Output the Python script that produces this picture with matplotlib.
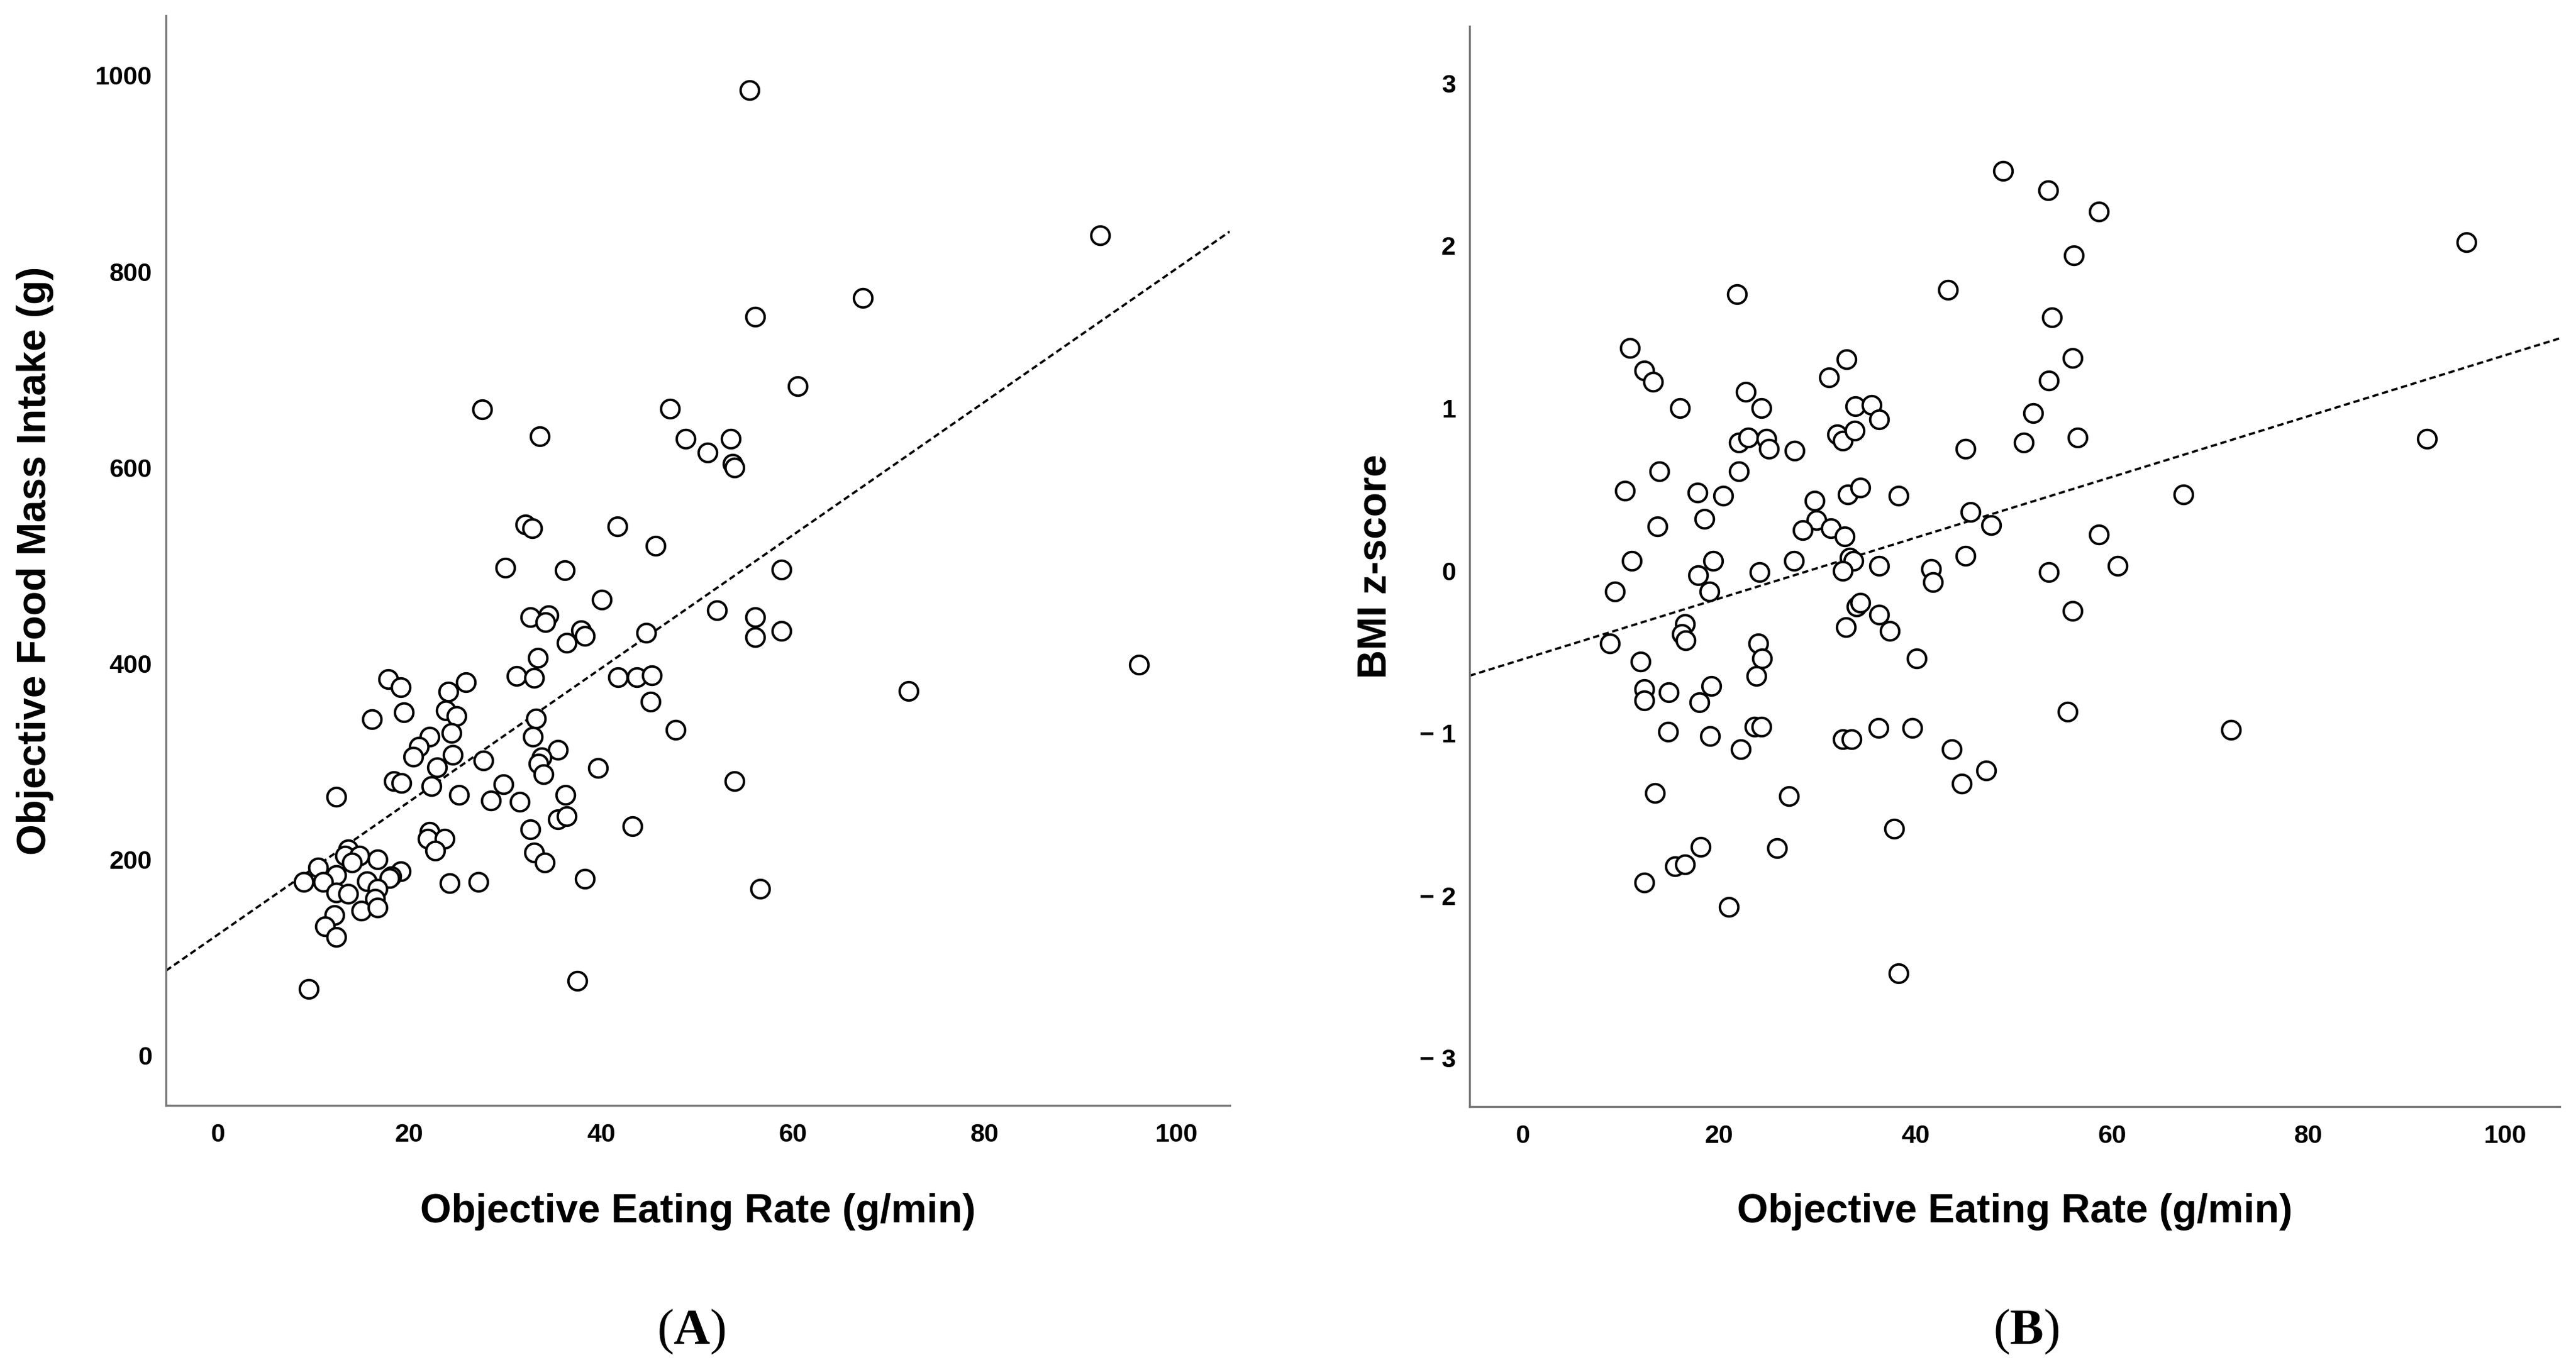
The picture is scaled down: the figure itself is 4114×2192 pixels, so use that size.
import numpy as np
import matplotlib
matplotlib.use("Agg")
import matplotlib.pyplot as plt

plt.rcParams['font.family'] = ['Liberation Sans', 'DejaVu Sans']
plt.rcParams['mathtext.fontset'] = 'custom'
plt.rcParams['mathtext.rm'] = 'Liberation Serif'
plt.rcParams['mathtext.bf'] = 'Liberation Serif:bold'

# panel A: eating rate (g/min) vs food mass intake (g)
rate_a = [55.5, 92.1, 67.3, 56.1, 60.5, 27.6, 47.2, 33.6, 48.8, 53.5,
          51.1, 53.7, 53.9, 32.1, 32.8, 41.7, 45.7, 30.0, 36.2, 58.8,
          40.1, 52.1, 32.6, 34.5, 34.2, 56.1, 37.9, 38.3, 44.7, 58.8,
          56.1, 36.4, 33.4, 96.1, 17.8, 25.9, 31.2, 33.0, 41.8, 43.7,
          45.3, 19.1, 24.1, 72.1, 45.2, 23.8, 19.4, 24.9, 16.1, 33.2,
          47.8, 24.4, 22.1, 32.9, 21.0, 35.5, 20.4, 24.5, 33.8, 27.7,
          33.5, 22.9, 39.7, 34.0, 18.4, 19.2, 53.9, 22.3, 29.8, 12.4,
          25.2, 36.3, 28.5, 31.5, 35.5, 36.4, 43.3, 32.6, 22.1, 21.9,
          23.7, 22.7, 33.0, 13.6, 16.7, 13.3, 14.8, 14.0, 34.1, 10.5,
          12.4, 19.1, 18.1, 17.9, 9.0, 11.0, 15.6, 24.2, 27.2, 38.3,
          56.6, 12.4, 13.6, 16.7, 16.4, 15.0, 16.7, 12.2, 11.2, 12.4,
          9.5, 37.5]
intake_a = [985, 837, 773, 754, 683, 659, 660, 632, 629, 629,
            615, 604, 600, 542, 538, 540, 520, 498, 495, 496,
            465, 454, 447, 449, 442, 447, 434, 428, 431, 433,
            427, 421, 406, 399, 384, 381, 387, 385, 386, 386,
            388, 376, 371, 372, 361, 352, 350, 346, 343, 344,
            332, 329, 325, 325, 315, 312, 305, 307, 304, 301,
            298, 294, 293, 287, 280, 278, 280, 275, 277, 264,
            266, 266, 260, 259, 241, 244, 234, 231, 228, 221,
            221, 209, 207, 210, 200, 204, 204, 197, 197, 192,
            184, 188, 183, 181, 177, 177, 178, 176, 177, 180,
            170, 166, 165, 170, 160, 148, 151, 143, 132, 121,
            68, 76]

# panel B: eating rate (g/min) vs BMI z-score
rate_b = [48.9, 53.5, 58.7, 96.1, 56.1, 21.8, 43.3, 53.9, 10.9, 12.4,
          13.3, 33.0, 56.0, 31.2, 53.6, 22.7, 16.0, 24.3, 33.9, 35.5,
          36.3, 52.0, 22.0, 23.0, 24.8, 25.1, 27.7, 32.0, 32.6, 33.8,
          51.0, 45.1, 56.5, 92.1, 13.9, 22.0, 10.4, 17.8, 20.4, 33.1,
          34.4, 38.3, 67.3, 29.7, 18.5, 29.9, 45.6, 13.7, 28.5, 31.4,
          47.7, 32.8, 58.7, 11.1, 19.4, 27.6, 33.3, 33.7, 45.1, 36.3,
          41.6, 60.6, 17.9, 24.1, 32.6, 53.6, 41.8, 9.4, 19.0, 34.0,
          34.4, 56.0, 36.3, 16.5, 16.2, 16.6, 32.9, 37.4, 8.9, 24.0,
          24.4, 40.1, 12.0, 23.8, 12.4, 12.4, 14.9, 19.2, 18.0, 55.5,
          72.1, 14.8, 19.1, 23.6, 24.3, 36.2, 39.7, 32.6, 33.5, 22.2,
          43.7, 47.2, 44.7, 13.5, 27.1, 37.8, 18.1, 25.9, 15.5, 16.5,
          12.4, 21.0, 38.3]
bmi_z = [2.46, 2.34, 2.21, 2.02, 1.94, 1.70, 1.73, 1.56, 1.37, 1.23,
         1.16, 1.30, 1.31, 1.19, 1.17, 1.10, 1.00, 1.00, 1.01, 1.02,
         0.93, 0.97, 0.79, 0.82, 0.81, 0.75, 0.74, 0.84, 0.80, 0.86,
         0.79, 0.75, 0.82, 0.81, 0.61, 0.61, 0.49, 0.48, 0.46, 0.47,
         0.51, 0.46, 0.47, 0.43, 0.32, 0.31, 0.36, 0.27, 0.25, 0.26,
         0.28, 0.21, 0.22, 0.06, 0.06, 0.06, 0.08, 0.06, 0.09, 0.03,
         0.01, 0.03, -0.03, -0.01, 0.00, -0.01, -0.07, -0.13, -0.13, -0.22,
         -0.20, -0.25, -0.27, -0.33, -0.39, -0.43, -0.35, -0.37, -0.45, -0.45,
         -0.54, -0.54, -0.56, -0.65, -0.73, -0.80, -0.75, -0.71, -0.81, -0.87,
         -0.98, -0.99, -1.02, -0.96, -0.96, -0.97, -0.97, -1.04, -1.04, -1.10,
         -1.10, -1.23, -1.31, -1.37, -1.39, -1.59, -1.70, -1.71, -1.82, -1.81,
         -1.92, -2.07, -2.48]

x_ticks = [0, 20, 40, 60, 80, 100]
a_yticks = [0, 200, 400, 600, 800, 1000]
b_yticks = [-3, -2, -1, 0, 1, 2, 3]
b_ylabels = ['\u2212 3', '\u2212 2', '\u2212 1', '0', '1', '2', '3']


def style_axes(ax):
    for side in ['top', 'right']:
        ax.spines[side].set_visible(False)
    for side in ['left', 'bottom']:
        ax.spines[side].set_color('#777777')
        ax.spines[side].set_linewidth(2.4)
    ax.tick_params(axis='both', length=0, labelsize=29.5)
    ax.tick_params(axis='x', pad=20)
    ax.tick_params(axis='y', pad=16)
    for lab in ax.get_xticklabels() + ax.get_yticklabels():
        lab.set_fontweight('bold')


def scatter_fit(ax, x, y, xlim):
    ax.scatter(x, y, s=450, facecolors='white', edgecolors='black',
               linewidths=2.8, zorder=3)
    # least-squares fit line, like the reference
    slope, icpt = np.polyfit(x, y, 1)
    xs = np.array(xlim)
    ax.plot(xs, icpt + slope * xs, color='black', lw=2.6,
            dashes=(2.8, 1.6), zorder=2)


fig = plt.figure(figsize=(41.14, 21.92), dpi=100)

xlim = (-5.4, 105.6)

ax_a = fig.add_axes([0.0644, 0.1943, 0.413, 0.7943])
scatter_fit(ax_a, rate_a, intake_a, xlim)
ax_a.set_xlim(*xlim)
ax_a.set_ylim(-51, 1061)
ax_a.set_xticks(x_ticks)
ax_a.set_yticks(a_yticks)
style_axes(ax_a)
ax_a.set_xlabel('Objective Eating Rate (g/min)', fontsize=46, fontweight='bold')
ax_a.set_ylabel('Objective Food Mass Intake (g)', fontsize=46, fontweight='bold')
ax_a.xaxis.set_label_coords(0.5, -0.0976)
ax_a.xaxis.label.set_va('center')
ax_a.yaxis.set_label_coords(-0.123, 0.5)
ax_a.yaxis.label.set_va('center')

ax_b = fig.add_axes([0.5705, 0.1934, 0.4232, 0.7874])
scatter_fit(ax_b, rate_b, bmi_z, xlim)
ax_b.set_xlim(*xlim)
ax_b.set_ylim(-3.30, 3.35)
ax_b.set_xticks(x_ticks)
ax_b.set_yticks(b_yticks)
ax_b.set_yticklabels(b_ylabels)
style_axes(ax_b)
ax_b.set_xlabel('Objective Eating Rate (g/min)', fontsize=46, fontweight='bold')
ax_b.set_ylabel('BMI z-score', fontsize=46, fontweight='bold')
ax_b.xaxis.set_label_coords(0.5, -0.0973)
ax_b.xaxis.label.set_va('center')
ax_b.yaxis.set_label_coords(-0.0862, 0.5)
ax_b.yaxis.label.set_va('center')

fig.text(0.2684, 0.0292, r'$\mathrm{(}\mathbf{A}\mathrm{)}$', fontsize=58,
         ha='center', va='center')
fig.text(0.7866, 0.0292, r'$\mathrm{(}\mathbf{B}\mathrm{)}$', fontsize=58,
         ha='center', va='center')

fig.savefig('out.png', dpi=100, facecolor='white')
